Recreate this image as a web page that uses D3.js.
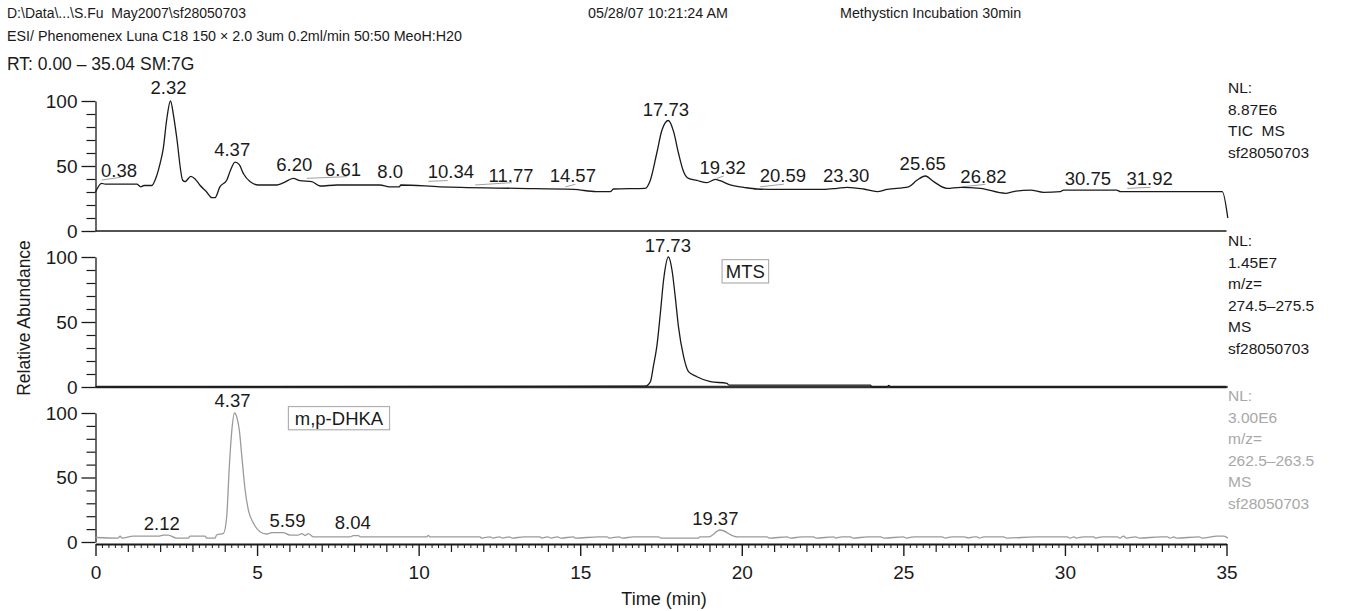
<!DOCTYPE html>
<html>
<head>
<meta charset="utf-8">
<script src="https://cdn.jsdelivr.net/npm/d3@7"></script>
<style>
  html, body { margin: 0; padding: 0; background: #fff; }
  svg { display: block; font-family: "Liberation Sans", Arial, Helvetica, sans-serif; }
  svg text { white-space: pre; }
</style>
</head>
<body>
<svg id="chart" width="1345" height="611"></svg>
<script>
// ---------------- DATA ----------------
const headerLine1 = ["D:\\Data\\...\\S.Fu  May2007\\sf28050703", "05/28/07 10:21:24 AM", "Methysticn Incubation 30min"];
const headerLine2 = "ESI/ Phenomenex Luna C18 150 × 2.0 3um 0.2ml/min 50:50 MeoH:H20";
const headerLine3 = "RT: 0.00 – 35.04 SM:7G";

const xMajorTicks = [0, 5, 10, 15, 20, 25, 30, 35];
const yMajorTicks = [0, 50, 100];
const yMinorTicks = [10, 20, 30, 40, 60, 70, 80, 90];

// Panel 1: TIC
const ticTimes = [0, 0.19, 0.3, 1.28, 1.4, 1.5, 1.74, 1.9, 2.0, 2.1, 2.2, 2.32, 2.42, 2.51, 2.7, 2.77, 2.95, 3.08, 3.24, 3.44, 3.6, 3.7, 3.85, 4.06, 4.18, 4.32, 4.45, 4.58, 4.78, 5.04, 5.61, 5.81, 6.12, 6.33, 6.69, 6.95, 7.47, 8.8, 9.1, 9.4, 9.45, 10.66, 11.3, 13.04, 14.8, 15.5, 15.93, 16.03, 17.01, 17.17, 17.37, 17.53, 17.73, 17.89, 18.04, 18.2, 18.35, 18.61, 18.92, 19.18, 19.33, 19.64, 20.06, 20.47, 20.98, 22.53, 22.95, 23.26, 23.77, 24.19, 24.5, 25.16, 25.42, 25.68, 25.94, 26.35, 26.77, 27.38, 28.16, 28.41, 28.93, 29.34, 29.86, 29.96, 31.6, 31.72, 34.87, 35.04];
const ticValues = [30, 36.7, 36, 36, 34, 35, 35, 43, 52, 64, 85, 100, 88, 72.5, 39, 38, 42, 40, 35, 30, 25.6, 25.6, 34, 39, 47, 53, 51, 44, 38, 35.4, 35.4, 37, 40.5, 38.7, 38, 34.6, 35.4, 35.4, 34, 34, 35.4, 34, 33.5, 32.8, 32, 30.3, 30.3, 32.3, 32.8, 39, 60, 77.7, 85, 76.4, 60, 45.6, 40.5, 39, 37.2, 39.7, 38.7, 35.4, 33.6, 32.3, 32, 32, 32.8, 33.6, 32.3, 30.3, 32, 34, 39, 42.3, 38, 32.8, 33.6, 32.8, 29, 30.3, 31.5, 29.7, 30.3, 31.5, 31.5, 30.3, 30.3, 10];
const ticLabelText = ["0.38", "2.32", "4.37", "6.20", "6.61", "8.0", "10.34", "11.77", "14.57", "17.73", "19.32", "20.59", "23.30", "25.65", "26.82", "30.75", "31.92"];
const ticLabelT = [0.73, 2.26, 4.23, 6.15, 7.66, 9.12, 11.0, 12.86, 14.77, 17.65, 19.41, 21.27, 23.23, 25.6, 27.48, 30.71, 32.62];
const ticLabelV = [41.5, 105.4, 57.7, 46.2, 42.3, 40.8, 40.8, 37.9, 37.9, 88.5, 43.8, 37.9, 37.9, 46.9, 36.9, 35.4, 35.4];
// leader segments [t1, v1, t2, v2]
const ticLeaders = [
  [0.19, 39.2, 0.78, 41.3], [6.54, 40.5, 7.78, 41.8], [10.3, 38.2, 10.9, 38.8],
  [11.75, 35.4, 12.89, 37.2], [14.54, 34, 14.85, 35.9], [19.23, 40.5, 19.44, 42.3],
  [20.57, 34, 21.3, 36], [26.82, 34, 27.54, 35.9], [31.93, 32.8, 32.65, 33.6]
];
const ticInfo = ["NL:", "8.87E6", "TIC  MS", "sf28050703"];

// Panel 2: MTS (m/z 274.5–275.5)
const mtsTimes = [0, 17.01, 17.17, 17.27, 17.37, 17.48, 17.58, 17.73, 17.84, 17.94, 18.04, 18.2, 18.35, 18.61, 19.03, 19.54, 19.6, 23.98, 24.03, 24.5, 24.55, 24.6, 35.04];
const mtsValues = [0, 0.7, 4, 16.9, 31, 56.7, 82.3, 100, 90, 69.5, 46.4, 23.3, 11.8, 7.9, 4.1, 2.8, 1.5, 1.5, 0, 0, 1.2, 0, 0];
const mtsLabelText = ["17.73"];
const mtsLabelT = [17.71];
const mtsLabelV = [104];
const mtsName = "MTS";
const mtsInfo = ["NL:", "1.45E7", "m/z=", "274.5–275.5", "MS", "sf28050703"];

// Panel 3: m,p-DHKA (m/z 262.5–263.5)
const dhkaTimes = [0, 0.7, 0.76, 0.82, 1.17, 1.95, 2.1, 2.25, 2.51, 2.87, 2.93, 3.39, 3.44, 3.7, 3.75, 3.96, 4.06, 4.14, 4.22, 4.3, 4.37, 4.45, 4.53, 4.63, 4.73, 4.89, 5.09, 5.3, 5.46, 5.81, 6.02, 6.28, 6.38, 6.49, 6.59, 6.74, 7.88, 7.98, 8.14, 8.19, 10.25, 10.3, 10.35, 11.9, 11.95, 12.21, 12.3, 12.5, 12.6, 12.8, 12.9, 13.25, 13.76, 13.8, 14.0, 14.1, 14.3, 14.4, 14.79, 14.85, 15.57, 15.83, 15.9, 16.2, 16.3, 16.65, 17.42, 17.5, 18.66, 18.7, 18.97, 19.33, 19.75, 19.85, 20.78, 20.85, 21.4, 21.5, 21.86, 22.22, 22.3, 22.84, 22.9, 23.1, 23.36, 23.45, 23.88, 24.3, 24.4, 25.0, 25.1, 25.32, 26.2, 26.3, 26.5, 26.87, 27.02, 27.18, 27.28, 27.35, 27.49, 28.1, 28.2, 29.09, 30.07, 30.15, 30.28, 30.35, 30.58, 30.89, 30.95, 31.15, 31.62, 31.7, 31.82, 31.9, 32.19, 32.3, 32.96, 33.17, 33.25, 33.37, 33.45, 34.15, 34.25, 34.71, 34.92, 35.04];
const dhkaValues = [3.5, 3, 4.5, 3, 4.5, 4.5, 5.4, 5.4, 3, 3, 4.5, 4.5, 3, 3, 5.4, 6.7, 19.6, 58, 86.8, 100, 97, 86.8, 66, 40.3, 24.8, 14.5, 8, 6.2, 7.2, 7.2, 5.4, 5.4, 6.5, 5, 6.5, 4, 4, 5, 5, 4, 4, 5.2, 4, 4, 3, 4, 3, 4, 3, 4, 3, 4, 4, 3, 4, 3, 4, 3, 4, 3, 4, 4, 3, 4, 3, 4, 4, 3, 3, 4, 4, 9.3, 4.6, 4, 4, 3, 4, 3, 4, 4, 3, 4, 3, 4, 4, 3, 4, 4, 3, 4, 3, 4, 4, 3, 4, 4, 3.2, 4, 4, 3, 4, 4, 3, 4, 4, 3, 4, 3, 4, 4, 3, 4, 4, 3, 4.6, 3, 4, 3, 4, 4, 3, 4, 3, 4, 3, 4.6, 4.6, 3];
const dhkaLabelText = ["4.37", "2.12", "5.59", "8.04", "19.37"];
const dhkaLabelT = [4.24, 2.05, 5.94, 7.96, 19.18];
const dhkaLabelV = [104.9, 9.3, 11.9, 9.8, 13.2];
const dhkaName = "m,p-DHKA";
const dhkaInfo = ["NL:", "3.00E6", "m/z=", "262.5–263.5", "MS", "sf28050703"];

const xTitle = "Time (min)";
const yTitle = "Relative Abundance";

// ---------------- DRAW ----------------
const svg = d3.select("#chart");
svg.append("rect").attr("width", 1345).attr("height", 611).attr("fill", "#fff");

const INK = "#1a1a1a";
const GREY = "#9a9a9a";

// header
const hdr = svg.append("g").attr("fill", INK);
hdr.append("text").attr("x", 7).attr("y", 18).attr("font-size", 14).text(headerLine1[0]);
hdr.append("text").attr("x", 588).attr("y", 18).attr("font-size", 14.3).text(headerLine1[1]);
hdr.append("text").attr("x", 840).attr("y", 18).attr("font-size", 14.3).text(headerLine1[2]);
hdr.append("text").attr("x", 7).attr("y", 41).attr("font-size", 14.3).text(headerLine2);
hdr.append("text").attr("x", 7).attr("y", 69.5).attr("font-size", 17.5).text(headerLine3);

const x = d3.scaleLinear().domain([0, 35]).range([95.5, 1226.5]);

const panels = [
  { top: 101, bottom: 231, times: ticTimes, values: ticValues, color: INK, lw: 1.3,
    labText: ticLabelText, labT: ticLabelT, labV: ticLabelV, info: ticInfo, infoColor: INK, baseW: 1.3, infoOff: -8 },
  { top: 257, bottom: 387, times: mtsTimes, values: mtsValues, color: INK, lw: 1.3,
    labText: mtsLabelText, labT: mtsLabelT, labV: mtsLabelV, info: mtsInfo, infoColor: INK, baseW: 2.6, infoOff: -11,
    name: mtsName, box: [19.39, 20.83, 98, 80] },
  { top: 413, bottom: 542, times: dhkaTimes, values: dhkaValues, color: GREY, lw: 1.3,
    labText: dhkaLabelText, labT: dhkaLabelT, labV: dhkaLabelV, info: dhkaInfo, infoColor: "#a8a8a8", baseW: 0, infoOff: -12,
    name: dhkaName, box: [5.97, 9.1, 105, 87] }
];

panels.forEach((p, i) => {
  const y = d3.scaleLinear().domain([0, 100]).range([p.bottom, p.top]);
  const g = svg.append("g");

  // y axis major
  const ax = d3.axisLeft(y).tickValues(yMajorTicks).tickSize(14).tickSizeOuter(0).tickPadding(4);
  const ga = g.append("g").attr("transform", "translate(95.5,0)").call(ax);
  ga.select(".domain").attr("stroke", INK).attr("stroke-width", 1.3);
  ga.selectAll(".tick line").attr("stroke", INK).attr("stroke-width", 1.3);
  ga.selectAll(".tick text").attr("font-size", 19).attr("fill", INK)
    .attr("font-family", "Liberation Sans, Arial, sans-serif");
  // minor
  const axm = d3.axisLeft(y).tickValues(yMinorTicks).tickSize(9).tickSizeOuter(0).tickFormat("");
  const gm = g.append("g").attr("transform", "translate(95.5,0)").call(axm);
  gm.select(".domain").remove();
  gm.selectAll(".tick line").attr("stroke", INK).attr("stroke-width", 1.2);

  // baseline
  if (p.baseW > 0) {
    g.append("line").attr("x1", x(0)).attr("x2", x(35)).attr("y1", y(0)).attr("y2", y(0))
      .attr("stroke", i === 1 ? "#333" : INK).attr("stroke-width", p.baseW);
  }

  // leaders
  if (i === 0) {
    g.selectAll("line.lead").data(ticLeaders).join("line").attr("class", "lead")
      .attr("x1", d => x(d[0])).attr("y1", d => y(d[1]))
      .attr("x2", d => x(d[2])).attr("y2", d => y(d[3]))
      .attr("stroke", "#a0a0a0").attr("stroke-width", 1);
  }

  // trace
  const pts = p.times.map((t, k) => [t, p.values[k]]);
  const line = d3.line().x(d => x(d[0])).y(d => y(d[1])).curve(d3.curveMonotoneX);
  g.append("path").attr("d", line(pts)).attr("fill", "none")
    .attr("stroke", p.color).attr("stroke-width", p.lw).attr("stroke-linejoin", "round");

  // peak labels
  g.selectAll("text.peak").data(p.labText).join("text").attr("class", "peak")
    .attr("x", (d, k) => x(p.labT[k])).attr("y", (d, k) => y(p.labV[k]))
    .attr("text-anchor", "middle").attr("font-size", 18.5).attr("fill", INK).text(d => d);

  // compound box
  if (p.name) {
    const [t1, t2, vTop, vBot] = p.box;
    g.append("rect").attr("x", x(t1)).attr("y", y(vTop))
      .attr("width", x(t2) - x(t1)).attr("height", y(vBot) - y(vTop))
      .attr("fill", "#fff").attr("stroke", "#b0b0b0").attr("stroke-width", 1.2);
    g.append("text").attr("x", (x(t1) + x(t2)) / 2).attr("y", (y(vTop) + y(vBot)) / 2 + 6.5)
      .attr("text-anchor", "middle").attr("font-size", 18.5).attr("fill", INK).text(p.name);
  }

  // info labels at right
  g.selectAll("text.info").data(p.info).join("text").attr("class", "info")
    .attr("x", 1228).attr("y", (d, k) => p.top + p.infoOff + k * 21.6)
    .attr("font-size", 15.5).attr("fill", p.infoColor).text(d => d);
});

// x axis (bottom panel)
const xAxisY = 544;
const gx = svg.append("g").attr("transform", `translate(0,${xAxisY})`);
const small = d3.range(0, 35.001, 0.2).filter(v => Math.abs(v - Math.round(v)) > 0.01);
const medium = d3.range(0, 36, 1).filter(v => v % 5 !== 0);
gx.append("g").call(d3.axisBottom(x).tickValues(small).tickSize(4).tickFormat("").tickSizeOuter(0))
  .call(s => s.select(".domain").remove())
  .selectAll(".tick line").attr("stroke", INK).attr("stroke-width", 1);
gx.append("g").call(d3.axisBottom(x).tickValues(medium).tickSize(8).tickFormat("").tickSizeOuter(0))
  .call(s => s.select(".domain").remove())
  .selectAll(".tick line").attr("stroke", INK).attr("stroke-width", 1.2);
const gxm = gx.append("g").call(d3.axisBottom(x).tickValues(xMajorTicks).tickSize(12).tickSizeOuter(0).tickPadding(10));
gxm.select(".domain").attr("stroke", INK).attr("stroke-width", 1.8);
gxm.selectAll(".tick line").attr("stroke", INK).attr("stroke-width", 1.4);
gxm.selectAll(".tick text").attr("font-size", 19).attr("fill", INK)
  .attr("font-family", "Liberation Sans, Arial, sans-serif");

// axis titles
svg.append("text").attr("x", (x(0) + x(35)) / 2 + 3).attr("y", 605).attr("text-anchor", "middle")
  .attr("font-size", 18).attr("fill", INK).text(xTitle);
svg.append("text").attr("transform", "translate(30,318) rotate(-90)").attr("text-anchor", "middle")
  .attr("font-size", 17.5).attr("fill", INK).text(yTitle);
</script>
</body>
</html>
